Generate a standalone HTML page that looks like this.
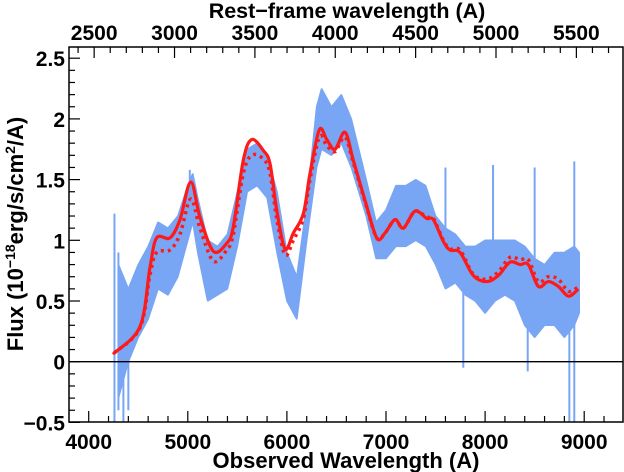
<!DOCTYPE html>
<html><head><meta charset="utf-8"><style>
html,body{margin:0;padding:0;background:#fff;width:624px;height:472px;overflow:hidden}
svg{display:block;font-family:"Liberation Sans",Arial,sans-serif;font-weight:bold}
</style></head><body>
<svg id="chart" width="624" height="472" viewBox="0 0 624 472"></svg>
<script>
// ---- data ----
const bandWave = [4300,4400,4500,4600,4700,4800,4900,5000,5050,5100,5200,5300,5400,5500,5600,5700,5800,5900,6000,6100,6200,6300,6350,6450,6550,6650,6800,6900,7000,7100,7200,7300,7400,7500,7600,7700,7800,7900,8000,8100,8200,8300,8400,8500,8600,8700,8800,8900,8950];
const bandLow  = [-0.3,0.0,0.2,0.35,0.6,0.55,0.7,1.0,1.15,0.9,0.5,0.55,0.6,0.95,1.4,1.45,1.35,0.9,0.5,0.35,1.0,1.6,1.75,1.7,1.8,1.6,1.2,0.85,0.85,0.95,0.95,1.0,0.95,0.8,0.6,0.65,0.55,0.5,0.4,0.5,0.55,0.5,0.3,0.2,0.3,0.3,0.2,0.3,0.4];
const bandHigh = [0.8,0.6,0.8,0.95,1.15,1.1,1.2,1.45,1.55,1.35,1.0,0.95,1.05,1.4,1.75,1.8,1.7,1.4,0.9,0.7,1.3,2.1,2.25,2.1,2.2,2.0,1.5,1.15,1.25,1.45,1.45,1.5,1.45,1.2,1.1,1.05,0.95,0.95,1.0,1.0,1.0,1.0,0.95,0.85,0.8,0.9,0.9,0.95,0.9];
const spikeWave = [4260,4300,4350,4400,5020,7600,7780,8080,8430,8500,8850,8900];
const spikeLow  = [-0.5,-0.4,-0.5,-0.4,1.1,0.9,-0.05,0.5,-0.08,0.4,-0.5,-0.5];
const spikeHigh = [1.22,0.9,0.6,0.5,1.58,1.6,0.9,1.62,0.9,1.6,0.9,1.65];
const modelWave = [4255,4518,4619,4686,4820,4921,5029,5123,5257,5392,5459,5560,5645,5762,5830,5897,5981,6065,6166,6233,6327,6402,6485,6586,6670,6788,6906,6990,7091,7175,7293,7411,7478,7579,7646,7747,7881,8016,8133,8251,8352,8436,8537,8638,8739,8840,8931];
const modelSolid = [0.07,0.29,0.78,1.02,1.02,1.17,1.48,1.19,0.91,0.975,1.11,1.66,1.83,1.74,1.63,1.25,0.93,1.06,1.22,1.55,1.91,1.83,1.75,1.89,1.66,1.33,1.02,1.06,1.17,1.10,1.24,1.18,1.17,0.99,0.92,0.90,0.71,0.66,0.71,0.82,0.80,0.80,0.62,0.66,0.62,0.54,0.59];
const modelDotted = [0.07,0.28,0.72,0.90,0.92,1.05,1.34,1.10,0.83,0.92,1.05,1.55,1.70,1.67,1.55,1.18,0.88,1.00,1.18,1.50,1.85,1.78,1.73,1.85,1.64,1.32,1.02,1.06,1.17,1.10,1.24,1.19,1.18,1.00,0.93,0.92,0.72,0.68,0.74,0.86,0.84,0.84,0.66,0.70,0.68,0.58,0.61];
const xTicks = [4000,5000,6000,7000,8000,9000];
const yTicks = [-0.5,0,0.5,1,1.5,2,2.5];
const yTickLabels = ["\u22120.5","0","0.5","1","1.5","2","2.5"];
const restTicks = [2500,3000,3500,4000,4500,5000,5500];
const zFactor = 1.622;

// ---- axes ----
const L=69, R=623, T=47, B=422;
const X = w => 88.7 + (w-4000)*0.0991;
const Y = v => 361.7 - v*121.4;
const NS="http://www.w3.org/2000/svg";
const svg=document.getElementById('chart');
function mk(tag,attrs,parent){const e=document.createElementNS(NS,tag);for(const k in attrs)e.setAttribute(k,attrs[k]);(parent||svg).appendChild(e);return e;}

const clip=mk('clipPath',{id:'pc'});mk('rect',{x:L,y:T,width:R-L,height:B-T},clip);
const plot=mk('g',{'clip-path':'url(#pc)'});



let pts=bandWave.map((w,i)=>X(w)+','+Y(bandHigh[i]));
for(let i=bandWave.length-1;i>=0;i--)pts.push(X(bandWave[i])+','+Y(bandLow[i]));
const band=mk('polygon',{points:pts.join(' '),fill:'#78a6f5',stroke:'#78a6f5','stroke-width':1.5,'stroke-linejoin':'bevel'},plot);


spikeWave.forEach((w,i)=>{
  const s=mk('line',{x1:X(w),x2:X(w),y1:Y(spikeLow[i]),y2:Y(spikeHigh[i]),stroke:'#78a6f5','stroke-width':2},plot);
  
  
});

const zl=mk('line',{x1:L,x2:R,y1:Y(0),y2:Y(0),stroke:'#000','stroke-width':1.3},plot);



function smoothPath(xs,ys){
  const p=xs.map((w,i)=>[X(w),Y(ys[i])]);
  let d='M'+p[0][0]+','+p[0][1];
  for(let i=0;i<p.length-1;i++){
    const p0=p[i-1]||p[i],p1=p[i],p2=p[i+1],p3=p[i+2]||p2;
    const c1=[p1[0]+(p2[0]-p0[0])/6,p1[1]+(p2[1]-p0[1])/6];
    const c2=[p2[0]-(p3[0]-p1[0])/6,p2[1]-(p3[1]-p1[1])/6];
    d+=` C${c1[0]},${c1[1]} ${c2[0]},${c2[1]} ${p2[0]},${p2[1]}`;
  }
  return d;
}
const dm=mk('path',{d:smoothPath(modelWave,modelDotted),fill:'none',stroke:'#ff1a1a','stroke-width':3.5,'stroke-dasharray':'3 4'},plot);


const sm=mk('path',{d:smoothPath(modelWave,modelSolid),fill:'none',stroke:'#ff1a1a','stroke-width':3.2,'stroke-linejoin':'round','stroke-linecap':'round'},plot);



const fr=mk('rect',{x:L,y:T,width:R-L,height:B-T,fill:'none',stroke:'#000','stroke-width':1.5});



for(let w=3800;w<=9400;w+=200){
  if(X(w)<L||X(w)>R)continue;
  const major=w%1000===0;
  const t=mk('line',{x1:X(w),x2:X(w),y1:B,y2:B-(major?11:6),stroke:'#000','stroke-width':1.2});
  
  
}
xTicks.forEach(w=>{
  const t=mk('text',{x:X(w),y:449,'text-anchor':'middle','font-size':21});
  t.textContent=w;
  
  
});
for(let r=2400;r<=5800;r+=100){
  const x=X(r*zFactor); if(x<L||x>R)continue;
  const major=r%500===0;
  const t=mk('line',{x1:x,x2:x,y1:T,y2:T+(major?11:6),stroke:'#000','stroke-width':1.2});
  
  
}
restTicks.forEach(r=>{
  const t=mk('text',{x:X(r*zFactor),y:40,'text-anchor':'middle','font-size':21});
  t.textContent=r;
  
  
});
for(let k=-5;k<=25;k++){
  const v=k/10,major=k%5===0;
  const t=mk('line',{x1:L,x2:L+(major?11:6),y1:Y(v),y2:Y(v),stroke:'#000','stroke-width':1.2});
  
  
}
yTicks.forEach((v,i)=>{
  const t=mk('text',{x:65,y:Y(v)+8,'text-anchor':'end','font-size':21});
  t.textContent=yTickLabels[i];
  
  
});
const xt=mk('text',{x:346,y:468,'text-anchor':'middle','font-size':22});
xt.textContent='Observed Wavelength (A)';


const tt=mk('text',{x:347,y:18,'text-anchor':'middle','font-size':21.5});
tt.textContent='Rest\u2212frame wavelength (A)';


const yt=mk('text',{x:0,y:0,'text-anchor':'middle','font-size':22,transform:'translate(23,234) rotate(-90)'});
yt.innerHTML='Flux (10<tspan baseline-shift="super" font-size="14">\u221218</tspan>erg/s/cm<tspan baseline-shift="super" font-size="14">2</tspan>/A)';


</script>
</body></html>
